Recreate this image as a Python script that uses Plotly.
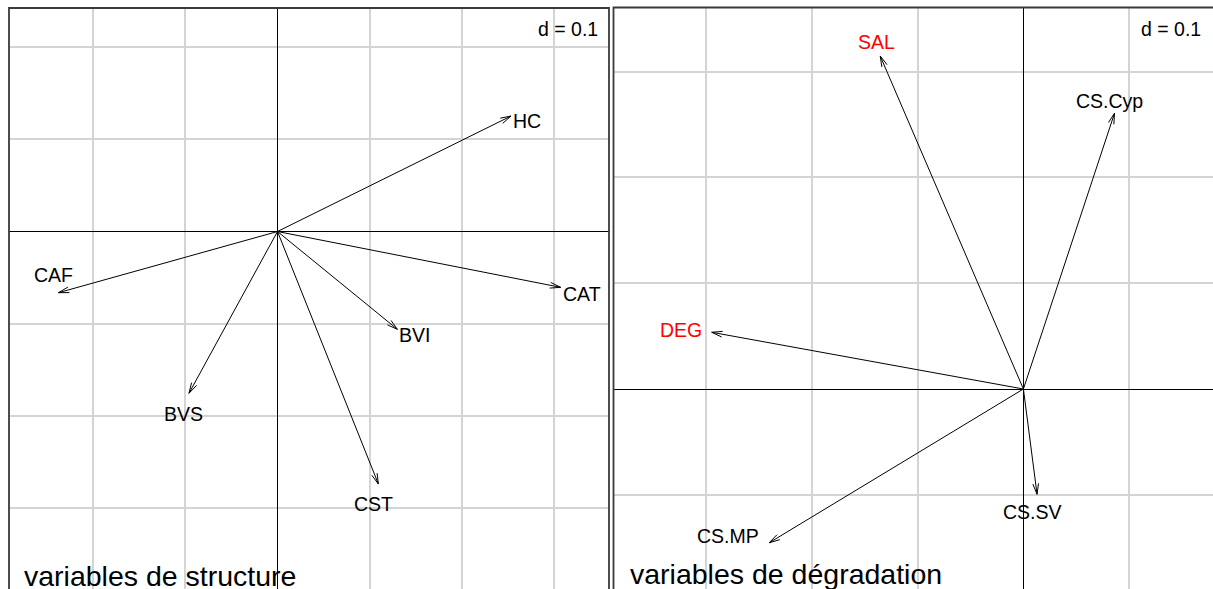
import math
import plotly.graph_objects as go

# ---------------- data ----------------
struct_names = ["HC", "CAT", "CAF", "BVI", "BVS", "CST"]
struct_x = [0.2530, 0.3068, -0.2373, 0.1299, -0.0959, 0.1093]
struct_y = [0.1251, -0.0605, -0.0663, -0.1060, -0.1753, -0.2736]

degr_names = ["SAL", "CS.Cyp", "DEG", "CS.MP", "CS.SV"]
degr_x = [-0.1353, 0.0861, -0.2946, -0.2402, 0.0129]
degr_y = [0.3147, 0.2606, 0.0536, -0.1453, -0.0995]

titles = ["variables de structure", "variables de dégradation"]
grid_label = "d = 0.1"
grid_step = 0.1

# ---------------- styles ----------------
W, H = 1213, 589
FONT = "Liberation Sans, Arial, Helvetica, sans-serif"
red_labels = {"SAL", "DEG"}
# label placement: (xanchor, xshift px, yshift px) relative to arrow tip
label_place = {
    "HC": ("left", 0, -5), "CAT": ("left", 0, -7), "BVI": ("left", 0, -6),
    "CAF": ("center", -5, 18), "BVS": ("center", -5, -21), "CST": ("center", -5, -20),
    "SAL": ("center", -4, 14), "CS.Cyp": ("center", -5, 12), "DEG": ("right", -8, 2),
    "CS.MP": ("right", -8, 7), "CS.SV": ("center", -5, -18),
}

# panel pixel geometry
p1 = dict(left=9, right=609, top=8, ox=277.5, oy=231.5, scale=923.0)
p2 = dict(left=613.5, right=1213, top=7.5, ox=1023.4, oy=389.0, scale=1058.0)


def ranges(p):
    s = p["scale"]
    xr = [(p["left"] - p["ox"]) / s, (p["right"] - p["ox"]) / s]
    yr = [(p["oy"] - H) / s, (p["oy"] - p["top"]) / s]
    return xr, yr


def arrow_path(xs, ys, scale, head_px=11, ang_deg=15):
    L = head_px / scale
    a = math.radians(ang_deg)
    px, py = [], []
    for x, y in zip(xs, ys):
        px += [0, x, None]
        py += [0, y, None]
        th = math.atan2(y, x)
        px += [x - L * math.cos(th + a), x, x - L * math.cos(th - a), None]
        py += [y - L * math.sin(th + a), y, y - L * math.sin(th - a), None]
    return px, py


fig = go.Figure()
annotations = []
shapes = []

panels = [
    (p1, struct_names, struct_x, struct_y, "x", "y", titles[0]),
    (p2, degr_names, degr_x, degr_y, "x2", "y2", titles[1]),
]

for idx, (p, names, xs, ys, xa, ya, title) in enumerate(panels):
    ax, ay = arrow_path(xs, ys, p["scale"])
    fig.add_trace(go.Scatter(x=ax, y=ay, mode="lines", xaxis=xa, yaxis=ya,
                             line=dict(color="black", width=1), hoverinfo="skip",
                             showlegend=False))
    for n, x, y in zip(names, xs, ys):
        xanc, xs_, ys_ = label_place[n]
        annotations.append(dict(
            x=x, y=y, xref=xa, yref=ya, text=n, showarrow=False,
            xanchor=xanc, yanchor="middle", xshift=xs_, yshift=ys_,
            font=dict(family=FONT, size=19.5,
                      color="red" if n in red_labels else "black")))
    # d = 0.1
    dx_right = p["right"] - (9 if idx == 0 else 10)
    annotations.append(dict(
        x=dx_right / W, y=1 - 29 / H, xref="paper", yref="paper", text=grid_label,
        showarrow=False, xanchor="right", yanchor="middle",
        font=dict(family=FONT, size=19.5, color="black")))
    # subtitle
    tx = (21.7 if idx == 0 else 627.7) / W
    ty = 1 - (576 if idx == 0 else 574) / H
    annotations.append(dict(
        x=tx, y=ty, xref="paper", yref="paper", text=title, showarrow=False,
        xanchor="left", yanchor="middle",
        font=dict(family=FONT, size=28.5, color="black")))
    # border
    shapes.append(dict(type="rect", xref="paper", yref="paper",
                       x0=p["left"] / W, x1=p["right"] / W if idx == 0 else 1.01,
                       y0=-0.1, y1=1 - p["top"] / H,
                       line=dict(color="#3a3a3a", width=1.8), layer="above"))

x1r, y1r = ranges(p1)
x2r, y2r = ranges(p2)

axis_common = dict(showticklabels=False, ticks="", showgrid=True, gridcolor="#d4d4d4",
                   gridwidth=1.5, zeroline=True, zerolinecolor="black", zerolinewidth=1.4,
                   showline=False, tick0=0, dtick=grid_step, fixedrange=True)

fig.update_layout(
    width=W, height=H,
    margin=dict(l=0, r=0, t=0, b=0),
    paper_bgcolor="white", plot_bgcolor="white",
    xaxis=dict(domain=[p1["left"] / W, p1["right"] / W], range=x1r, **axis_common),
    yaxis=dict(domain=[0, 1 - p1["top"] / H], range=y1r, **axis_common),
    xaxis2=dict(domain=[p2["left"] / W, 1], range=x2r, **axis_common),
    yaxis2=dict(domain=[0, 1 - p2["top"] / H], range=y2r, **axis_common),
    annotations=annotations,
    shapes=shapes,
    showlegend=False,
)

fig.write_html("out.html", config={"displayModeBar": False},
               post_script="document.body.style.margin='0';document.body.style.overflow='hidden';")
